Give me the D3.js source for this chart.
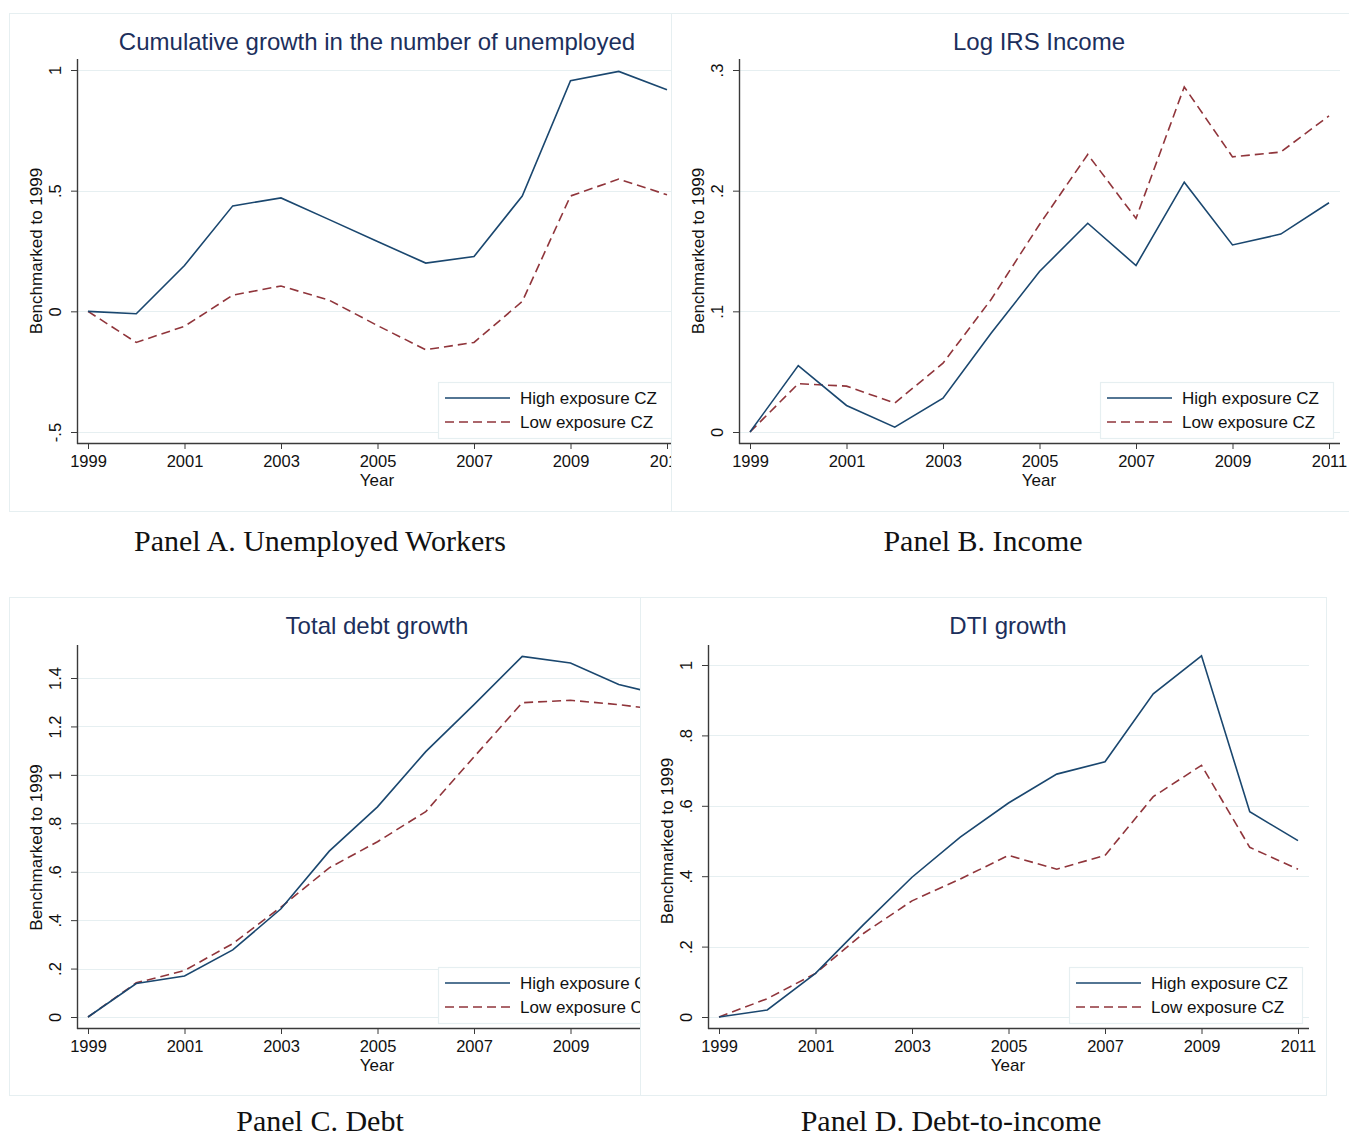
<!DOCTYPE html>
<html><head><meta charset="utf-8">
<script src="https://cdn.jsdelivr.net/npm/d3@7"></script>
<style>body{margin:0;background:#fff}svg{display:block}</style>
</head><body><svg id="c" width="1349" height="1139"></svg>
<script>
// ---------- DATA ----------
const years = [1999,2000,2001,2002,2003,2004,2005,2006,2007,2008,2009,2010,2011];
const xTickYears = [1999,2001,2003,2005,2007,2009,2011];
const seriesNames = ["High exposure CZ","Low exposure CZ"];

const unempHigh = [0,-0.01,0.19,0.437,0.47,0.38,0.289,0.2,0.227,0.478,0.956,0.994,0.918];
const unempLow  = [0,-0.129,-0.062,0.067,0.105,0.046,-0.059,-0.159,-0.129,0.041,0.478,0.548,0.483];
const incomeHigh = [0,0.055,0.022,0.004,0.028,0.082,0.133,0.173,0.138,0.207,0.155,0.164,0.19];
const incomeLow  = [0,0.04,0.038,0.024,0.057,0.11,0.172,0.23,0.177,0.286,0.228,0.232,0.262];
const debtHigh = [0,0.138,0.169,0.277,0.447,0.685,0.868,1.096,1.29,1.489,1.462,1.373,1.325];
const debtLow  = [0,0.141,0.192,0.303,0.454,0.616,0.724,0.848,1.074,1.298,1.308,1.29,1.265];
const dtiHigh = [0,0.02,0.124,0.263,0.397,0.511,0.608,0.69,0.725,0.918,1.026,0.583,0.501];
const dtiLow  = [0,0.052,0.124,0.238,0.33,0.392,0.459,0.42,0.459,0.626,0.715,0.482,0.42];

const unempTicks  = [-0.5,0,0.5,1];
const incomeTicks = [0,0.1,0.2,0.3];
const debtTicks   = [0,0.2,0.4,0.6,0.8,1,1.2,1.4];
const dtiTicks    = [0,0.2,0.4,0.6,0.8,1];

const titles   = ["Cumulative growth in the number of unemployed","Log IRS Income","Total debt growth","DTI growth"];
const captions = ["Panel A. Unemployed Workers","Panel B. Income","Panel C. Debt","Panel D. Debt-to-income"];
const yLabel = "Benchmarked to 1999";
const xLabel = "Year";

// ---------- LAYOUT ----------
const panels = [
  {box:[9,13,662,498], clipW:671, L:77,  axisY:443, top:59,  yDom:[-0.5,1], yRng:[432,70],  ticks:unempTicks,  hi:unempHigh,  lo:unempLow,  capX:320, capY:551},
  {box:[671,13,690,498], clipW:1349, L:739, axisY:443, top:59, yDom:[0,0.3], yRng:[432,70], ticks:incomeTicks, hi:incomeHigh, lo:incomeLow, capX:983, capY:551},
  {box:[9,597,631,498], clipW:640, L:77,  axisY:1028, top:645, yDom:[0,1.4], yRng:[1017,678], ticks:debtTicks, hi:debtHigh, lo:debtLow, capX:320, capY:1131},
  {box:[640,597,686,498], clipW:1349, L:708, axisY:1028, top:645, yDom:[0,1], yRng:[1017,665], ticks:dtiTicks, hi:dtiHigh, lo:dtiLow, capX:951, capY:1131}
];

const navy = "#1a476f", maroon = "#90353b", titleCol = "#1c2f5c", grid = "#e6eff1", axisCol = "#3a3a3a";
const sans = "'Liberation Sans', Arial, sans-serif";
const serif = "'Liberation Serif', 'Times New Roman', serif";
const fmt = v => { let s = String(+(+v).toFixed(2)); return s.replace(/^0\./,".").replace(/^-0\./,"-."); };

const svg = d3.select("#c");
const defs = svg.append("defs");

panels.forEach((p,i) => {
  defs.append("clipPath").attr("id","clip"+i).append("rect")
    .attr("x",0).attr("y",p.box[1]-2).attr("width",p.clipW).attr("height",p.box[3]+4);
  const g = svg.append("g").attr("clip-path",`url(#clip${i})`);
  // panel box
  g.append("rect").attr("x",p.box[0]+0.5).attr("y",p.box[1]+0.5).attr("width",p.box[2]).attr("height",p.box[3])
    .attr("fill","#fff").attr("stroke",grid).attr("stroke-width",1);

  const x = d3.scaleLinear().domain([1999,2011]).range([p.L+11, p.L+590]);
  const y = d3.scaleLinear().domain(p.yDom).range(p.yRng);
  const right = p.L + 601;

  // gridlines
  g.append("g").selectAll("line").data(p.ticks).join("line")
    .attr("x1",p.L).attr("x2",right).attr("y1",d=>Math.round(y(d))+0.5).attr("y2",d=>Math.round(y(d))+0.5)
    .attr("stroke",grid).attr("stroke-width",1.2);

  // title
  g.append("text").attr("x",p.L+300).attr("y",p.box[1]+37).attr("text-anchor","middle")
    .attr("font-family",sans).attr("font-size",24).attr("fill",titleCol).text(titles[i]);

  // y axis
  const ya = d3.axisLeft(y).tickValues(p.ticks).tickSize(6).tickFormat(fmt);
  const yg = g.append("g").attr("transform",`translate(${p.L},0)`).call(ya);
  yg.select(".domain").remove();
  yg.selectAll(".tick line").attr("stroke",axisCol);
  yg.selectAll(".tick text").attr("font-family",sans).attr("font-size",16.5).attr("fill","#111")
    .attr("x",0).attr("dy",0).attr("text-anchor","middle")
    .attr("transform","translate(-16,0) rotate(-90)");
  g.append("line").attr("x1",p.L+0.5).attr("x2",p.L+0.5).attr("y1",p.top).attr("y2",p.axisY+1)
    .attr("stroke",axisCol).attr("stroke-width",1.4);
  g.append("text").attr("transform",`translate(${p.L-35},${(p.yRng[0]+p.yRng[1])/2}) rotate(-90)`)
    .attr("text-anchor","middle").attr("font-family",sans).attr("font-size",17).attr("fill","#111").text(yLabel);

  // x axis
  const xa = d3.axisBottom(x).tickValues(xTickYears).tickSize(6).tickFormat(d3.format("d"));
  const xg = g.append("g").attr("transform",`translate(0,${p.axisY})`).call(xa);
  xg.select(".domain").remove();
  xg.selectAll(".tick line").attr("stroke",axisCol);
  xg.selectAll(".tick text").attr("font-family",sans).attr("font-size",16.5).attr("fill","#111")
    .attr("y",24).attr("dy",0);
  g.append("line").attr("x1",p.L).attr("x2",right).attr("y1",p.axisY+0.5).attr("y2",p.axisY+0.5)
    .attr("stroke",axisCol).attr("stroke-width",1.4);
  g.append("text").attr("x",p.L+300).attr("y",p.axisY+43).attr("text-anchor","middle")
    .attr("font-family",sans).attr("font-size",17).attr("fill","#111").text(xLabel);

  // lines
  const line = d3.line().x((d,j)=>x(years[j])).y(d=>y(d));
  g.append("path").datum(p.lo).attr("d",line).attr("fill","none").attr("stroke",maroon)
    .attr("stroke-width",1.6).attr("stroke-dasharray","9,5");
  g.append("path").datum(p.hi).attr("d",line).attr("fill","none").attr("stroke",navy)
    .attr("stroke-width",1.6);

  // legend
  const lx = p.L+361, ly = p.axisY-61;
  const lg = g.append("g");
  lg.append("rect").attr("x",lx+0.5).attr("y",ly+0.5).attr("width",233).attr("height",56)
    .attr("fill","#fff").attr("stroke",grid).attr("stroke-width",1.2);
  [[navy,null],[maroon,"9,5"]].forEach((s,k) => {
    const yy = ly + 16 + k*24;
    lg.append("line").attr("x1",lx+7).attr("x2",lx+72).attr("y1",yy).attr("y2",yy)
      .attr("stroke",s[0]).attr("stroke-width",1.6).attr("stroke-dasharray",s[1]);
    lg.append("text").attr("x",lx+82).attr("y",yy+6).attr("font-family",sans).attr("font-size",17)
      .attr("fill","#111").text(seriesNames[k]);
  });

  // caption
  svg.append("text").attr("x",p.capX).attr("y",p.capY).attr("text-anchor","middle")
    .attr("font-family",serif).attr("font-size",30).attr("fill","#111").text(captions[i]);
});
</script></body></html>
